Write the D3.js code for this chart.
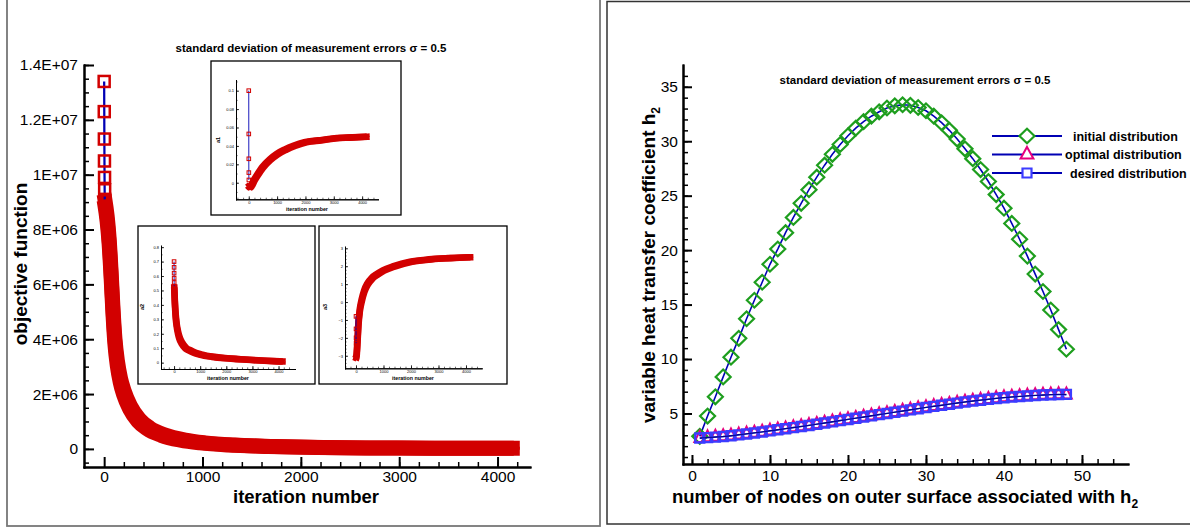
<!DOCTYPE html>
<html>
<head>
<meta charset="utf-8">
<script src="https://cdnjs.cloudflare.com/ajax/libs/d3/7.8.5/d3.min.js"></script>
<style>
  body { margin: 0; background: #fff; }
  svg { display: block; font-family: "Liberation Sans", Arial, Helvetica, sans-serif; }
</style>
</head>
<body>
<svg id="chart" width="1190" height="529"></svg>
<script>
// ---------- data: main objective function ----------
var objStartIter = [0, 1, 2, 3, 4, 5, 6];
var objStart = [13.4e6, 12.3e6, 11.3e6, 10.5e6, 9.9e6, 9.45e6, 9.1e6];
var objIter = [7, 30, 50, 70, 90, 110, 135, 165, 200, 265, 350, 450, 600, 800, 1000, 1300, 1700, 2200, 3000, 4150];
var objValue = [9.0e6, 8.4e6, 7.6e6, 6.4e6, 5.0e6, 3.9e6, 3.1e6, 2.5e6, 2.05e6, 1.5e6, 1.05e6, 0.75e6, 0.5e6, 0.32e6, 0.22e6, 0.14e6, 0.09e6, 0.05e6, 0.03e6, 0.02e6];
var objTicks = [0, 2e6, 4e6, 6e6, 8e6, 10e6, 12e6, 14e6];
var objTickLabels = ["0", "2E+06", "4E+06", "6E+06", "8E+06", "1E+07", "1.2E+07", "1.4E+07"];
var iterTicks = [0, 1000, 2000, 3000, 4000];

// ---------- data: insets a1, a2, a3 ----------
var a1StartIter = [0, 1, 2, 3, 4];
var a1Start = [0.1, 0.053, 0.026, 0.011, 0.003];
var a1Iter = [10, 50, 100, 200, 300, 500, 750, 1000, 1300, 1600, 2000, 2500, 3000, 3500, 4150];
var a1Value = [-0.004, -0.005, -0.003, 0.003, 0.008, 0.017, 0.025, 0.031, 0.036, 0.040, 0.044, 0.046, 0.048, 0.049, 0.050];
var a1Ticks = [0, 0.02, 0.04, 0.06, 0.08, 0.1];

var a2StartIter = [0, 1, 2, 3, 4, 5];
var a2Start = [0.70, 0.66, 0.62, 0.585, 0.555, 0.53];
var a2Iter = [8, 30, 60, 100, 150, 200, 300, 450, 600, 800, 1000, 1500, 2000, 2500, 3000, 3500, 4150];
var a2Value = [0.52, 0.42, 0.33, 0.26, 0.21, 0.175, 0.135, 0.10, 0.085, 0.068, 0.057, 0.04, 0.03, 0.024, 0.018, 0.013, 0.008];
var a2Ticks = [0, 0.1, 0.2, 0.3, 0.4, 0.5, 0.6, 0.7, 0.8];

var a3StartIter = [0, 1, 2, 3];
var a3Start = [-0.8, -1.5, -2.0, -2.3];
var a3Iter = [5, 20, 50, 90, 140, 210, 300, 420, 580, 750, 1000, 1400, 2000, 2700, 3400, 4150];
var a3Value = [-3.1, -3.0, -2.3, -1.2, -0.45, 0.1, 0.6, 1.0, 1.32, 1.52, 1.76, 2.0, 2.25, 2.38, 2.45, 2.5];
var a3Ticks = [-3, -2, -1, 0, 1, 2, 3];

// ---------- data: heat transfer coefficient ----------
var nodes = d3.range(1, 49);
var initialH = [2.9, 4.76, 6.53, 8.36, 10.17, 11.9, 13.7, 15.4, 17.05, 18.7, 20.1, 21.6, 23.0, 24.3, 25.55, 26.7,
  27.8, 28.8, 29.7, 30.5, 31.2, 31.8, 32.3, 32.7, 33.05, 33.25, 33.35, 33.3, 33.1, 32.8, 32.3, 31.7,
  31.0, 30.2, 29.3, 28.4, 27.4, 26.3, 25.1, 23.85, 22.45, 21.0, 19.45, 17.8, 16.2, 14.5, 12.7, 10.9];
var optimalH = [2.72, 2.79, 2.84, 2.89, 2.96, 3.04, 3.13, 3.22, 3.31, 3.41, 3.51, 3.61, 3.71, 3.81, 3.91, 4.02,
  4.13, 4.24, 4.35, 4.46, 4.57, 4.68, 4.79, 4.90, 5.01, 5.12, 5.23, 5.34, 5.45, 5.56, 5.66, 5.76,
  5.86, 5.96, 6.06, 6.15, 6.23, 6.31, 6.39, 6.46, 6.52, 6.57, 6.62, 6.66, 6.70, 6.73, 6.75, 6.72];
var desiredH = [2.75, 2.78, 2.83, 2.88, 2.95, 3.03, 3.12, 3.21, 3.30, 3.40, 3.50, 3.60, 3.70, 3.80, 3.90, 4.01,
  4.12, 4.23, 4.34, 4.45, 4.56, 4.67, 4.78, 4.89, 5.00, 5.11, 5.22, 5.33, 5.44, 5.55, 5.65, 5.75,
  5.85, 5.95, 6.05, 6.14, 6.22, 6.30, 6.38, 6.45, 6.51, 6.56, 6.61, 6.65, 6.69, 6.72, 6.74, 6.75];
var nodeTicks = [0, 10, 20, 30, 40, 50];
var hTicks = [5, 10, 15, 20, 25, 30, 35];
var legendNames = ["initial distribution", "optimal distribution", "desired distribution"];

var title = "standard deviation of measurement errors \u03c3 = 0.5";
var RED = "#d20000", LINEBLUE = "#0000b4", GREEN = "#1e9e1e", PINK = "#e6007e", SQBLUE = "#3c3cff";

var svg = d3.select("#chart");

// panel frames
svg.append("rect").attr("x", 7).attr("y", -3).attr("width", 593).attr("height", 529)
  .attr("fill", "none").attr("stroke", "#777").attr("stroke-width", 1.8);
svg.append("rect").attr("x", 607).attr("y", 1.5).attr("width", 600).attr("height", 522.5)
  .attr("fill", "none").attr("stroke", "#333").attr("stroke-width", 1.5);

// tecplot style axes: inward ticks, major + minor
function tecAxes(g, x, y, o) {
  var yb = y.range()[0], xl = x.range()[0];
  function style(sel, lw, fs) {
    sel.attr("font-family", null).attr("font-size", null);
    sel.select(".domain").attr("stroke", "#000").attr("stroke-width", o.lw).attr("stroke-linecap", "square");
    sel.selectAll(".tick line").attr("stroke", "#000").attr("stroke-width", lw);
    sel.selectAll(".tick text").attr("fill", "#000").style("font-size", fs + "px");
  }
  g.append("g").attr("transform", "translate(0," + yb + ")")
    .call(d3.axisBottom(x).tickValues(o.xMinor).tickSize(-o.minor).tickSizeOuter(0).tickFormat(""))
    .call(style, o.minorW, 0);
  g.append("g").attr("transform", "translate(0," + yb + ")")
    .call(d3.axisBottom(x).tickValues(o.xMajor).tickSize(-o.major).tickSizeOuter(0).tickPadding(o.padX).tickFormat(o.fx))
    .call(style, o.majorW, o.fs);
  g.append("g").attr("transform", "translate(" + xl + ",0)")
    .call(d3.axisLeft(y).tickValues(o.yMinor).tickSize(-o.minor).tickSizeOuter(0).tickFormat(""))
    .call(style, o.minorW, 0);
  g.append("g").attr("transform", "translate(" + xl + ",0)")
    .call(d3.axisLeft(y).tickValues(o.yMajor).tickSize(-o.major).tickSizeOuter(0).tickPadding(o.padY).tickFormat(o.fy))
    .call(style, o.majorW, o.fs);
}

function steps(a, b, s) {
  var out = [];
  for (var v = a; v <= b + s / 1000; v += s) out.push(+v.toFixed(6));
  return out;
}

// thick band made of overlapping square markers
function band(g, x, y, xs, ys, h, w) {
  var line = d3.line().curve(d3.curveMonotoneX);
  var pts = xs.map(function(d, i) { return [x(d), y(ys[i])]; });
  [[-h, -h], [h, -h], [-h, h], [h, h], [0, 0]].forEach(function(off) {
    g.append("path").attr("d", line(pts))
      .attr("transform", "translate(" + off[0] + "," + off[1] + ")")
      .attr("fill", "none").attr("stroke", RED).attr("stroke-width", w)
      .attr("stroke-linecap", "square").attr("stroke-linejoin", "round");
  });
}

function startMarks(g, x, y, xs, ys, size, lw) {
  var pts = xs.map(function(d, i) { return [x(d), y(ys[i])]; });
  g.append("path").attr("d", d3.line()(pts)).attr("fill", "none")
    .attr("stroke", LINEBLUE).attr("stroke-width", lw * 0.9);
  g.selectAll(null).data(pts).enter().append("rect")
    .attr("x", function(d) { return d[0] - size / 2; })
    .attr("y", function(d) { return d[1] - size / 2; })
    .attr("width", size).attr("height", size)
    .attr("fill", "none").attr("stroke", RED).attr("stroke-width", lw);
}

// ---------- left panel: objective function ----------
var gL = svg.append("g");
var xMain = d3.scaleLinear().domain([-205, 4330]).range([84, 530]);
var yMain = d3.scaleLinear().domain([-0.66e6, 14e6]).range([467, 65]);

gL.append("text").attr("x", 311).attr("y", 52).attr("text-anchor", "middle")
  .style("font-size", "11.5px").style("font-weight", "bold").text(title);

band(gL.append("g"), xMain, yMain, objIter, objValue, 3, 9);
startMarks(gL.append("g"), xMain, yMain, objStartIter, objStart, 11, 2.5);

tecAxes(gL, xMain, yMain, {
  xMajor: iterTicks, xMinor: steps(200, 4200, 200), yMajor: objTicks, yMinor: steps(-0.5e6, 14e6, 0.5e6),
  major: 10, minor: 5, majorW: 2, minorW: 1.5, lw: 2, fs: 15.5, padX: 4, padY: 6,
  fx: d3.format("d"), fy: function(d, i) { return objTickLabels[i]; }
});

gL.append("text").attr("x", 306).attr("y", 503).attr("text-anchor", "middle")
  .style("font-size", "18.5px").style("font-weight", "bold").text("iteration number");
gL.append("text").attr("transform", "translate(27,264) rotate(-90)").attr("text-anchor", "middle")
  .style("font-size", "19px").style("font-weight", "bold").text("objective function");

// ---------- insets ----------
var insets = [
  { box: [211, 61, 190, 154], xr: [236, 378], dom: [-450, 4560], yd: [-0.018, 0.1116], yr: [199.3, 80],
    yMajor: a1Ticks, yMinor: steps(-0.01, 0.11, 0.01), fy: function(d) { return d === 0 ? "0" : d3.format(".2~f")(d); },
    sIter: a1StartIter, sVal: a1Start, iter: a1Iter, val: a1Value, name: "a1", lab: [220, 140], xl: [307, 211] },
  { box: [138, 226, 177, 158], xr: [161, 295], dom: [-500, 4630], yd: [-0.044, 0.81], yr: [369, 245.7],
    yMajor: a2Ticks, yMinor: steps(0, 0.8, 0.05), fy: function(d) { return d === 0 ? "0" : d3.format(".1f")(d); },
    sIter: a2StartIter, sVal: a2Start, iter: a2Iter, val: a2Value, name: "a2", lab: [144, 307], xl: [228, 380] },
  { box: [319, 226, 188, 158], xr: [345, 481.7], dom: [-400, 4571], yd: [-3.7, 3.09], yr: [368.3, 246.7],
    yMajor: a3Ticks, yMinor: steps(-3.6, 3, 0.2), fy: d3.format("d"),
    sIter: a3StartIter, sVal: a3Start, iter: a3Iter, val: a3Value, name: "a3", lab: [327, 307], xl: [413, 380] }
];

insets.forEach(function(ins) {
  var g = svg.append("g");
  g.append("rect").attr("x", ins.box[0]).attr("y", ins.box[1]).attr("width", ins.box[2]).attr("height", ins.box[3])
    .attr("fill", "#fff").attr("stroke", "#000").attr("stroke-width", 1.3);
  var x = d3.scaleLinear().domain(ins.dom).range(ins.xr);
  var y = d3.scaleLinear().domain(ins.yd).range(ins.yr);
  band(g.append("g"), x, y, ins.iter, ins.val, 1.5, 3.6);
  startMarks(g.append("g"), x, y, ins.sIter, ins.sVal, 3.6, 1);
  tecAxes(g, x, y, {
    xMajor: iterTicks, xMinor: steps(-400, 4400, 200), yMajor: ins.yMajor, yMinor: ins.yMinor,
    major: 3, minor: 1.6, majorW: 0.8, minorW: 0.6, lw: 1, fs: 4, padX: 1.5, padY: 2,
    fx: d3.format("d"), fy: ins.fy
  });
  g.append("text").attr("x", ins.xl[0]).attr("y", ins.xl[1]).attr("text-anchor", "middle")
    .style("font-size", "5.3px").style("font-weight", "bold").text("iteration number");
  g.append("text").attr("transform", "translate(" + ins.lab[0] + "," + ins.lab[1] + ") rotate(-90)")
    .attr("text-anchor", "middle").style("font-size", "5.5px").style("font-weight", "bold").text(ins.name);
});

// ---------- right panel: heat transfer coefficient ----------
var gR = svg.append("g");
var xN = d3.scaleLinear().domain([-1.15, 55.9]).range([683, 1128]);
var yH = d3.scaleLinear().domain([0.36, 37]).range([464, 65]);

gR.append("text").attr("x", 915).attr("y", 84).attr("text-anchor", "middle")
  .style("font-size", "11.5px").style("font-weight", "bold").text(title);

var diamond = "M0,-7.3L7.5,0L0,7.3L-7.5,0Z";
var triangle = "M0,-7.6L6.4,4L-6.4,4Z";
var smallTriangle = "M0,-7.2L5.4,3.8L-5.4,3.8Z";
var square = "M-4.5,-4.5h9v9h-9Z";
var lineN = d3.line().x(function(d) { return xN(d[0]); }).y(function(d) { return yH(d[1]); });

function series(vals, shape, color, lw) {
  var pts = nodes.map(function(n, i) { return [n, vals[i]]; });
  gR.append("g").selectAll("path").data(pts).enter().append("path")
    .attr("d", shape)
    .attr("transform", function(d) { return "translate(" + xN(d[0]) + "," + yH(d[1]) + ")"; })
    .attr("fill", "none").attr("stroke", color).attr("stroke-width", lw);
}

gR.append("path").attr("d", lineN(nodes.map(function(n, i) { return [n, initialH[i]]; })))
  .attr("fill", "none").attr("stroke", LINEBLUE).attr("stroke-width", 1.6);
series(initialH, diamond, GREEN, 2.2);
series(optimalH, smallTriangle, PINK, 2);
gR.append("path").attr("d", lineN(nodes.map(function(n, i) { return [n, optimalH[i]]; })))
  .attr("fill", "none").attr("stroke", LINEBLUE).attr("stroke-width", 1.4);
series(desiredH, square, SQBLUE, 2.4);
gR.append("path").attr("d", lineN(nodes.map(function(n, i) { return [n, desiredH[i]]; })))
  .attr("fill", "none").attr("stroke", "#000080").attr("stroke-width", 1.2).attr("opacity", 0.8);

tecAxes(gR, xN, yH, {
  xMajor: nodeTicks, xMinor: steps(0, 54, 2), yMajor: hTicks, yMinor: steps(1, 36, 1),
  major: 9, minor: 5, majorW: 2, minorW: 1.5, lw: 2, fs: 15.5, padX: 6, padY: 5,
  fx: d3.format("d"), fy: d3.format("d")
});

var xt = gR.append("text").attr("x", 905).attr("y", 503).attr("text-anchor", "middle")
  .style("font-size", "18.5px").style("font-weight", "bold");
xt.append("tspan").text("number of nodes on outer surface associated with h");
xt.append("tspan").attr("dy", 5).style("font-size", "12px").text("2");

var yt = gR.append("text").attr("transform", "translate(655,265) rotate(-90)").attr("text-anchor", "middle")
  .style("font-size", "19px").style("font-weight", "bold");
yt.append("tspan").text("variable heat transfer coefficient h");
yt.append("tspan").attr("dy", 5).style("font-size", "12px").text("2");

// legend
var legY = [136, 154.5, 173], legX = [1073, 1065, 1070];
var legShapes = [[diamond, GREEN, 2.2], [triangle, PINK, 2], [square, SQBLUE, 2.2]];
legendNames.forEach(function(name, i) {
  var g = gR.append("g");
  g.append("line").attr("x1", 992).attr("x2", 1062).attr("y1", legY[i]).attr("y2", legY[i])
    .attr("stroke", LINEBLUE).attr("stroke-width", 2);
  g.append("path").attr("d", legShapes[i][0])
    .attr("transform", "translate(1027," + legY[i] + ")")
    .attr("fill", "#fff").attr("stroke", legShapes[i][1]).attr("stroke-width", legShapes[i][2]);
  g.append("text").attr("x", legX[i]).attr("y", legY[i] + 4.5)
    .style("font-size", "12.5px").style("font-weight", "bold").text(name);
});
</script>
</body>
</html>
